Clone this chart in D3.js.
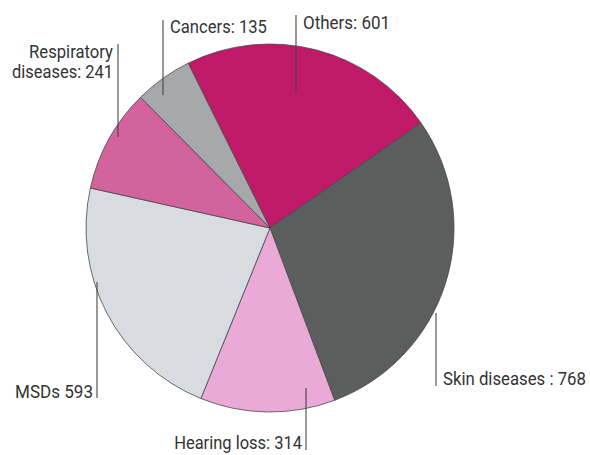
<!DOCTYPE html>
<html>
<head>
<meta charset="utf-8">
<script src="https://cdn.jsdelivr.net/npm/d3@7"></script>
<style>
  html, body { margin: 0; padding: 0; background: #fff; }
  svg { display: block; }
  text { font-family: "Liberation Sans Narrow", Roboto, "DejaVu Sans Condensed", sans-serif; fill: #333; }
</style>
</head>
<body>
<svg id="chart" width="590" height="455"></svg>
<script>
// ---- data ----
const categories = ["Others", "Skin diseases", "Hearing loss", "MSDs", "Respiratory diseases", "Cancers"];
const values = [601, 768, 314, 593, 241, 135];
const labelTexts = [
  ["Others: 601"],
  ["Skin diseases : 768"],
  ["Hearing loss: 314"],
  ["MSDs 593"],
  ["Respiratory", "diseases: 241"],
  ["Cancers: 135"]
];

// ---- styles / layout ----
const colors = ["#c0196a", "#5c5d5d", "#e9aad7", "#d8dbe0", "#d2639d", "#a7a8aa"];
const cx = 270, cy = 228, radius = 184;
const startDeg = -26.4;
// label layout: line x, line y1, y2; text anchor, text x, first baseline, target width per line
const labelLayout = [
  { lx: 296, y1: 15, y2: 93, anchor: "start", tx: 303, ty: 29, w: [87] },
  { lx: 436, y1: 313, y2: 386, anchor: "start", tx: 443, ty: 385, w: [143] },
  { lx: 306, y1: 388, y2: 450, anchor: "end", tx: 302, ty: 449, w: [128] },
  { lx: 97, y1: 282, y2: 398, anchor: "end", tx: 93, ty: 398, w: [78] },
  { lx: 118, y1: 44, y2: 137, anchor: "end", tx: 113, ty: 58, w: [84, 101] },
  { lx: 163, y1: 20, y2: 95, anchor: "start", tx: 170, ty: 33, w: [97] }
];

const svg = d3.select("#chart");
const data = categories.map((c, i) => ({ name: c, value: values[i], i }));

const pie = d3.pie()
  .sort(null)
  .value(d => d.value)
  .startAngle(startDeg * Math.PI / 180)
  .endAngle(startDeg * Math.PI / 180 + 2 * Math.PI);

const arc = d3.arc().innerRadius(0).outerRadius(radius);

const g = svg.append("g").attr("transform", `translate(${cx},${cy})`);
g.selectAll("path")
  .data(pie(data))
  .join("path")
  .attr("d", arc)
  .attr("fill", d => colors[d.data.i])
  .attr("stroke", "#474747")
  .attr("stroke-width", 0.8)
  .attr("stroke-linejoin", "round");

// leader lines
svg.selectAll("line.leader")
  .data(labelLayout)
  .join("line")
  .attr("class", "leader")
  .attr("x1", d => d.lx).attr("x2", d => d.lx)
  .attr("y1", d => d.y1).attr("y2", d => d.y2)
  .attr("stroke", "#444")
  .attr("stroke-width", 1.1);

// labels: condensed by horizontal scaling to match the reference's narrow face
labelLayout.forEach((L, i) => {
  labelTexts[i].forEach((t, j) => {
    const grp = svg.append("g");
    const txt = grp.append("text")
      .attr("x", 0)
      .attr("y", 0)
      .attr("text-anchor", L.anchor)
      .attr("font-size", 18.5)
      .text(t);
    const natural = txt.node().getComputedTextLength();
    const sx = L.w[j] / natural;
    grp.attr("transform", `translate(${L.tx},${L.ty + j * 20}) scale(${sx},1)`);
  });
});
</script>
</body>
</html>
